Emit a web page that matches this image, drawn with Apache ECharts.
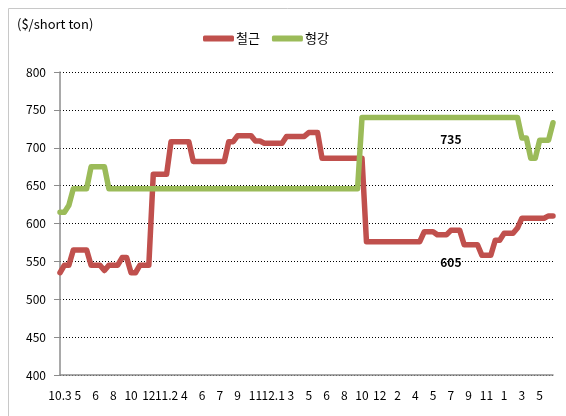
<!DOCTYPE html>
<html>
<head>
<meta charset="utf-8">
<script src="https://cdn.jsdelivr.net/npm/echarts@6/dist/echarts.min.js"></script>
<style>
  html, body { margin: 0; padding: 0; background: #fff; }
  #chart { width: 566px; height: 416px; }
</style>
</head>
<body>
<div id="chart"></div>
<script>
// tick labels shown every 4th point (two-week steps)
const tickLabels = ['10.3', '5', '6', '8', '10', '12', '11.2', '4', '6', '7', '9', '11', '12.1', '3',
  '5', '6', '8', '10', '12', '2', '4', '5', '7', '9', '11', '1', '3', '5'];

// 철근
const rebar = [
  535, 545, 545, 565, 565, 565, 565, 545, 545, 545,
  538, 545, 545, 545, 555, 555, 535, 535, 545, 545,
  545, 665, 665, 665, 665, 708, 708, 708, 708, 708,
  682, 682, 682, 682, 682, 682, 682, 682, 708, 708,
  716, 716, 716, 716, 709, 709, 706, 706, 706, 706,
  706, 715, 715, 715, 715, 715, 720, 720, 720, 686,
  686, 686, 686, 686, 686, 686, 686, 686, 686, 576,
  576, 576, 576, 576, 576, 576, 576, 576, 576, 576,
  576, 576, 589, 589, 589, 585, 585, 585, 591, 591,
  591, 572, 572, 572, 572, 558, 558, 558, 578, 578,
  587, 587, 587, 594, 607, 607, 607, 607, 607, 607,
  610, 610
];

// 형강
const section = [
  615, 615, 624, 646, 646, 646, 646, 675, 675, 675,
  675, 646, 646, 646, 646, 646, 646, 646, 646, 646,
  646, 646, 646, 646, 646, 646, 646, 646, 646, 646,
  646, 646, 646, 646, 646, 646, 646, 646, 646, 646,
  646, 646, 646, 646, 646, 646, 646, 646, 646, 646,
  646, 646, 646, 646, 646, 646, 646, 646, 646, 646,
  646, 646, 646, 646, 646, 646, 646, 646, 740, 740,
  740, 740, 740, 740, 740, 740, 740, 740, 740, 740,
  740, 740, 740, 740, 740, 740, 740, 740, 740, 740,
  740, 740, 740, 740, 740, 740, 740, 740, 740, 740,
  740, 740, 740, 740, 713, 713, 686, 686, 710, 710,
  710, 733
];

const categories = rebar.map((v, i) => String(i));

const chart = echarts.init(document.getElementById('chart'));
chart.setOption({
  animation: false,
  textStyle: { fontFamily: 'Noto Sans CJK KR' },
  graphic: [
    {
      type: 'rect',
      shape: { x: 8.5, y: 8.5, width: 600, height: 500 },
      style: { fill: 'none', stroke: '#c8c8c8', lineWidth: 1 }
    },
    {
      type: 'text',
      left: 17,
      top: 18,
      style: { text: '($/short ton)', fontSize: 13, fill: '#000', fontFamily: 'Noto Sans CJK KR' }
    }
  ],
  legend: {
    top: 27,
    left: 198,
    itemWidth: 31,
    itemHeight: 6,
    itemGap: 12,
    icon: 'roundRect',
    textStyle: { fontSize: 13, color: '#000', padding: [0, 0, 0, -3] },
    data: ['철근', '형강']
  },
  grid: { left: 60, right: 13, top: 72, bottom: 41 },
  xAxis: {
    type: 'category',
    boundaryGap: false,
    data: categories,
    axisLine: { lineStyle: { color: '#8c8c8c', width: 1.5 } },
    axisTick: { show: false },
    axisLabel: {
      interval: 3,
      margin: 14,
      fontSize: 12,
      color: '#000',
      formatter: (v, i) => tickLabels[i / 4]
    }
  },
  yAxis: {
    type: 'value',
    min: 400,
    max: 800,
    interval: 50,
    axisLine: { show: true, lineStyle: { color: '#8c8c8c', width: 1.5 } },
    axisTick: { show: true, length: 6, lineStyle: { color: '#8c8c8c' } },
    axisLabel: { margin: 14, fontSize: 12, color: '#000' },
    splitLine: { lineStyle: { color: '#000', type: [1, 2], width: 1 } }
  },
  series: [
    {
      name: '철근',
      type: 'line',
      data: rebar,
      showSymbol: false,
      color: '#c0504d',
      lineStyle: { width: 5.5, color: '#c0504d', join: 'round', cap: 'round' },
      markPoint: {
        symbol: 'circle',
        symbolSize: 0,
        label: { show: true, offset: [0, 32], fontSize: 12, fontWeight: 'bold', color: '#000', formatter: '605' },
        data: [{ coord: ['88', rebar[88]] }]
      }
    },
    {
      name: '형강',
      type: 'line',
      data: section,
      showSymbol: false,
      color: '#9bbb59',
      lineStyle: { width: 5.5, color: '#9bbb59', join: 'round', cap: 'round' },
      markPoint: {
        symbol: 'circle',
        symbolSize: 0,
        label: { show: true, offset: [0, 22], fontSize: 12, fontWeight: 'bold', color: '#000', formatter: '735' },
        data: [{ coord: ['88', section[88]] }]
      }
    }
  ]
});
</script>
</body>
</html>
